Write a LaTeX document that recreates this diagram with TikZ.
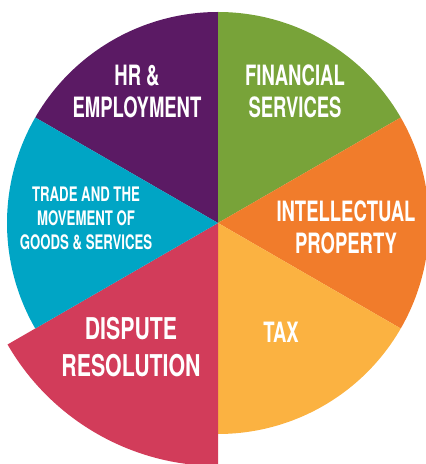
\documentclass[tikz,border=0pt]{standalone}
\usepackage{fontspec}
\usepackage{xcolor}
\usepackage{tikz}
\setmainfont{TeX Gyre Heros}[FakeStretch=0.66]
\newfontfamily\widerfont{TeX Gyre Heros}[FakeStretch=0.71]
\definecolor{hrpurple}{HTML}{5B1A64}
\definecolor{fingreen}{HTML}{78A339}
\definecolor{iporange}{HTML}{F17C2B}
\definecolor{taxyellow}{HTML}{FBB241}
\definecolor{disred}{HTML}{D23C5A}
\definecolor{tradeteal}{HTML}{00A5C5}
\tikzset{
  label/.style={text=white, align=center, inner sep=0pt, font=\bfseries\fontsize{28}{32}\selectfont},
  biglabel/.style={label, font=\widerfont\bfseries\fontsize{30}{37}\selectfont},
  smalllabel/.style={label, font=\bfseries\fontsize{20}{24}\selectfont}
}

\begin{document}
\begin{tikzpicture}[x=1pt,y=1pt]
			\useasboundingbox (0,0) rectangle (426,464);
			\coordinate (c) at (218,241);
			\fill[hrpurple] (c) -- ++(90:211) arc (90:150:211) -- cycle;
			\fill[fingreen] (c) -- ++(30:211) arc (30:90:211) -- cycle;
			\fill[iporange] (c) -- ++(-30:211) arc (-30:30:211) -- cycle;
			\fill[taxyellow] (c) -- ++(-90:211) arc (-90:-30:211) -- cycle;
			\fill[disred] (c) -- ++(210:243) arc (210:270:243) -- cycle;
			\fill[tradeteal] (c) -- ++(150:211) arc (150:210:211) -- cycle;
			\node[label] (hr) at (137,372.5) {HR \&\\EMPLOYMENT};
			\node[label] (fin) at (295,373) {FINANCIAL\\SERVICES};
			\node[label] (ip) at (346,237) {INTELLECTUAL\\PROPERTY};
			\node[smalllabel] (trade) at (86,246) {TRADE AND THE\\MOVEMENT OF\\GOODS \& SERVICES};
			\node[biglabel] (dispute) at (131,117) {DISPUTE\\RESOLUTION};
			\node[label] (tax) at (281,132) {TAX};
		\end{tikzpicture}
\end{document}
